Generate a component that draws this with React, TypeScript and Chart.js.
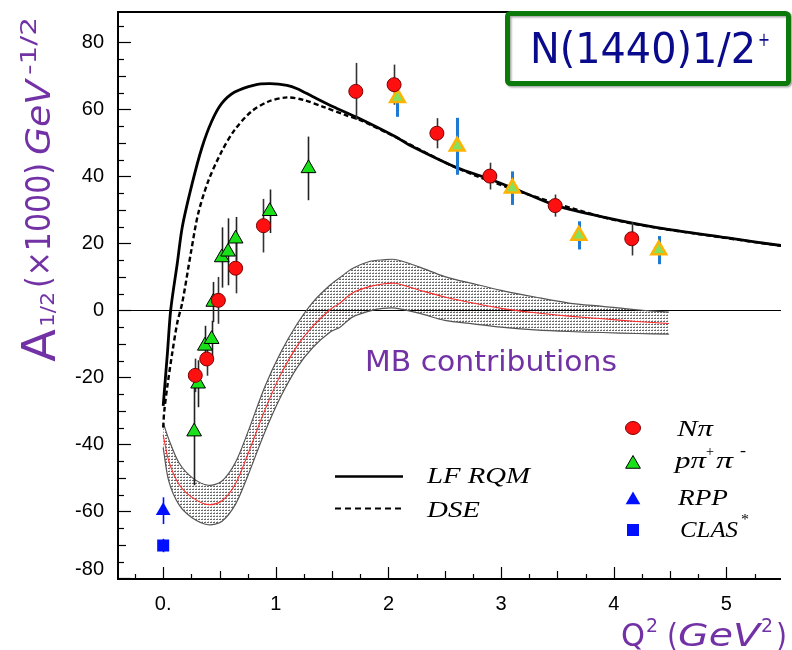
import React, { useEffect, useRef } from 'react';
import { Chart, registerables } from 'chart.js';

Chart.register(...registerables);

// ---- Model curves: A1/2 (x1000, GeV^-1/2) vs Q^2 (GeV^2) ----
const lfQ = [0, 0.038, 0.067, 0.125, 0.17, 0.256, 0.343, 0.43, 0.52, 0.635, 0.81, 0.95, 1.1, 1.19, 1.33, 1.51, 1.71, 2.06, 2.18, 2.61, 2.91, 3.2, 3.49, 3.92, 4.36, 5.0, 5.5];
const lfA = [-28.5, -12.6, 0.2, 14, 25, 37.7, 48.5, 56.4, 61.8, 65.2, 67.3, 67.7, 67.2, 66.2, 63.8, 60.8, 57.8, 51.9, 49.5, 42.6, 39.1, 35.2, 31.3, 27.8, 24.9, 21.7, 19.3];

const dseQ = [0, 0.009, 0.038, 0.081, 0.125, 0.169, 0.25, 0.31, 0.4, 0.52, 0.635, 0.78, 0.93, 1.1, 1.25, 1.42, 1.62, 1.75, 2.06, 2.61, 3.2, 3.92, 4.36, 5.0, 5.5];
const dseA = [-35, -30.3, -22.4, -12.6, -3.7, 2.2, 18, 28.8, 38.6, 47.5, 53.9, 59.3, 62.3, 63.6, 62.8, 60.8, 58.3, 56.8, 51.8, 42.5, 35.1, 27.7, 24.8, 21.6, 19.2];

// Meson-baryon contributions: central value and band edges
const mbQ = [0, 0.05, 0.14, 0.26, 0.4, 0.52, 0.64, 0.75, 0.9, 1.04, 1.19, 1.33, 1.48, 1.57, 1.68, 1.83, 1.95, 2.06, 2.27, 2.5, 2.75, 3.0, 3.3, 3.6, 3.9, 4.2, 4.49];
const mbCenter = [-37.2, -45, -51.9, -55.9, -58, -56.9, -51.9, -43.1, -30, -19.4, -10.6, -4.7, 0.2, 2.2, 5.2, 7.1, 7.9, 8.1, 6.1, 4.0, 2.2, 0.6, -0.7, -1.7, -2.5, -3.3, -3.9];
const mbUpper = [-33.5, -38.5, -45.5, -50, -52.2, -51, -45.5, -36.5, -23, -12.8, -4, 2.5, 7.5, 9.8, 12.5, 14.6, 15.1, 15.2, 13, 10.1, 8.0, 6.0, 4.0, 2.2, 1.2, 0.2, -0.5];
const mbLower = [-41, -51, -58, -62, -64, -63, -58, -49.5, -36.5, -26, -17, -11, -6.5, -5, -2, -0.2, 0.6, 0.7, -0.8, -3, -4.0, -5.0, -5.8, -6.3, -6.6, -6.9, -7.1];

// ---- Measured amplitudes with errors ----
const npiQ = [0.285, 0.387, 0.49, 0.643, 0.89, 1.71, 2.05, 2.43, 2.9, 3.48, 4.16];
const npiA = [-19.4, -14.5, 3, 12.6, 25.3, 65.4, 67.4, 52.9, 40.1, 31.3, 21.4];
const npiErr = [5, 5, 7, 7.5, 8, 8.5, 6, 4.5, 4, 3.3, 5];

const ppQ = [0.275, 0.31, 0.37, 0.43, 0.445, 0.52, 0.576, 0.643, 0.946, 1.29];
const ppA = [-36.2, -21.9, -10.6, -8.6, 2.5, 15.8, 17.5, 21.4, 29.6, 42.4];
const ppErr = [16, 7, 6, 5.5, 6, 9, 10, 6.5, 6.5, 9.5];

const ppHiQ = [2.08, 2.61, 3.1, 3.69, 4.4];
const ppHiA = [63.5, 49.0, 36.5, 22.4, 18.0];
const ppHiErr = [5.7, 8.5, 5, 4.2, 4.2];

const rppQ = [0];
const rppA = [-59.8];
const rppErr = [4];

const clasQ = [0];
const clasA = [-70.2];
const clasErr = [2];

// ---- Axes ----
const xTicks = [0, 1, 2, 3, 4, 5];
const xTickLabels = ['0.', '1', '2', '3', '4', '5'];
const yTicks = [-80, -60, -40, -20, 0, 20, 40, 60, 80];
const yTickLabels = ['-80', '-60', '-40', '-20', '0', '20', '40', '60', '80'];

const PURPLE = '#7232a6';
const RED = '#ff1010';
const GREEN = '#19e019';

const pts = (qs: number[], as: number[]) => qs.map((q, i) => ({ x: q, y: as[i] }));

function bandPattern(): CanvasPattern | string {
  const tile = document.createElement('canvas');
  tile.width = 3;
  tile.height = 3;
  const t = tile.getContext('2d');
  if (!t) return 'rgba(0,0,0,0.2)';
  t.fillStyle = 'rgba(0,0,0,0.6)';
  t.fillRect(0, 0, 2, 1);
  t.fillStyle = 'rgba(0,0,0,0.25)';
  t.fillRect(1, 2, 1, 1);
  return t.createPattern(tile, 'repeat') || 'rgba(0,0,0,0.2)';
}

// draw text so that it spans a given length along its direction
function fitText(ctx: CanvasRenderingContext2D, text: string, font: string, x: number, y: number, len: number) {
  ctx.save();
  ctx.font = font;
  const w = ctx.measureText(text).width;
  ctx.translate(x, y);
  ctx.scale(len / w, 1);
  ctx.textAlign = 'left';
  ctx.textBaseline = 'alphabetic';
  ctx.fillText(text, 0, 0);
  ctx.restore();
}

function rotText(ctx: CanvasRenderingContext2D, text: string, font: string, startY: number, baseX: number, len: number) {
  ctx.save();
  ctx.translate(baseX, startY);
  ctx.rotate(-Math.PI / 2);
  fitText(ctx, text, font, 0, 0, len);
  ctx.restore();
}

function drawTriangle(ctx: CanvasRenderingContext2D, x: number, y: number, r: number) {
  const h = 1.5 * r;
  const half = (Math.sqrt(3) * r) / 2;
  ctx.beginPath();
  ctx.moveTo(x, y - r);
  ctx.lineTo(x + half, y - r + h);
  ctx.lineTo(x - half, y - r + h);
  ctx.closePath();
}

const errorSets = [
  { q: npiQ, a: npiA, e: npiErr, color: '#333', width: 1.6 },
  { q: ppQ, a: ppA, e: ppErr, color: '#222', width: 1.6 },
  { q: ppHiQ, a: ppHiA, e: ppHiErr, color: '#1f78d1', width: 3 },
  { q: rppQ, a: rppA, e: rppErr, color: '#0010ff', width: 1.6 },
  { q: clasQ, a: clasA, e: clasErr, color: '#0010ff', width: 1.6 },
];

const decorPlugin = {
  id: 'decor',
  beforeDatasetsDraw(chart: any) {
    const { ctx, chartArea, scales } = chart;
    const y0 = scales.y.getPixelForValue(0);
    ctx.save();
    ctx.strokeStyle = '#000';
    ctx.lineWidth = 1;
    ctx.beginPath();
    ctx.moveTo(chartArea.left, Math.round(y0) + 0.5);
    ctx.lineTo(chartArea.right, Math.round(y0) + 0.5);
    ctx.stroke();
    ctx.restore();
  },
  beforeDatasetDraw(chart: any, args: any) {
    if (args.index !== 0) return;
    const { ctx, scales } = chart;
    ctx.save();
    errorSets.forEach((s) => {
      ctx.strokeStyle = s.color;
      ctx.lineWidth = s.width;
      s.q.forEach((q, i) => {
        const px = Math.round(scales.x.getPixelForValue(q)) + 0.5;
        ctx.beginPath();
        ctx.moveTo(px, scales.y.getPixelForValue(s.a[i] + s.e[i]));
        ctx.lineTo(px, scales.y.getPixelForValue(s.a[i] - s.e[i]));
        ctx.stroke();
      });
    });
    ctx.restore();
  },
  afterDraw(chart: any) {
    const { ctx, chartArea, scales } = chart;
    const { left, right, top, bottom } = chartArea;
    const xs = scales.x;
    const ys = scales.y;
    ctx.save();

    // frame
    ctx.strokeStyle = '#000';
    ctx.lineWidth = 2;
    ctx.beginPath();
    ctx.moveTo(right, top + 1);
    ctx.lineTo(left + 1, top + 1);
    ctx.lineTo(left + 1, bottom);
    ctx.lineTo(right, bottom);
    ctx.stroke();

    // y ticks (inward)
    ctx.lineWidth = 1.2;
    for (let v = -80; v <= 85; v += 5) {
      const py = Math.round(ys.getPixelForValue(v)) + 0.5;
      const len = v % 20 === 0 ? 13 : v % 10 === 0 ? 8 : 6;
      ctx.beginPath();
      ctx.moveTo(left + 1, py);
      ctx.lineTo(left + 1 + len, py);
      ctx.stroke();
    }
    // x ticks (inward)
    for (let v = -0.25; v <= 5.45; v += 0.25) {
      const px = Math.round(xs.getPixelForValue(v)) + 0.5;
      const r = Math.round(v * 4) % 4;
      const len = r === 0 ? 12 : r === 2 || r === -2 ? 8 : 5;
      ctx.beginPath();
      ctx.moveTo(px, bottom);
      ctx.lineTo(px, bottom - len);
      ctx.stroke();
    }

    // tick labels
    ctx.fillStyle = '#000';
    ctx.font = '20px "Liberation Sans", Arial, sans-serif';
    ctx.textAlign = 'right';
    ctx.textBaseline = 'middle';
    yTicks.forEach((v, i) => {
      const py = Math.min(ys.getPixelForValue(v), bottom - 10);
      ctx.fillText(yTickLabels[i], 104, py);
    });
    ctx.textAlign = 'center';
    xTicks.forEach((v, i) => {
      ctx.fillText(xTickLabels[i], xs.getPixelForValue(v), bottom + 25);
    });

    // y axis title
    ctx.fillStyle = PURPLE;
    rotText(ctx, 'A', '46px "DejaVu Sans", sans-serif', 362, 55, 33);
    rotText(ctx, '1/2', '19px "DejaVu Sans", sans-serif', 327, 54, 35);
    rotText(ctx, '(\u00d71000)', '34px "DejaVu Sans", sans-serif', 288, 50, 125);
    rotText(ctx, 'GeV', 'italic 34px "DejaVu Sans", sans-serif', 155, 50, 75);
    rotText(ctx, '-1/2', '21px "DejaVu Sans", sans-serif', 75, 36, 58);

    // x axis title
    fitText(ctx, 'Q', '32px "DejaVu Sans", sans-serif', 621, 646, 24);
    fitText(ctx, '2', '20px "DejaVu Sans", sans-serif', 646, 632, 12);
    fitText(ctx, '(', '32px "DejaVu Sans", sans-serif', 667, 646, 11);
    fitText(ctx, 'GeV', 'italic 32px "DejaVu Sans", sans-serif', 678, 646, 82);
    fitText(ctx, '2', '20px "DejaVu Sans", sans-serif', 761, 632, 12);
    fitText(ctx, ')', '32px "DejaVu Sans", sans-serif', 776, 646, 11);

    // band label
    fitText(ctx, 'MB contributions', '29px "DejaVu Sans", sans-serif', 365, 371, 252);

    // legend: model curves
    ctx.strokeStyle = '#000';
    ctx.lineWidth = 2.5;
    ctx.beginPath();
    ctx.moveTo(335, 476.5);
    ctx.lineTo(403, 476.5);
    ctx.stroke();
    ctx.setLineDash([6, 4]);
    ctx.lineWidth = 2;
    ctx.beginPath();
    ctx.moveTo(335, 508.5);
    ctx.lineTo(403, 508.5);
    ctx.stroke();
    ctx.setLineDash([]);
    ctx.fillStyle = '#000';
    const serif = '"Liberation Serif", "Times New Roman", serif';
    fitText(ctx, 'LF RQM', `italic 24px ${serif}`, 427, 483, 103);
    fitText(ctx, 'DSE', `italic 24px ${serif}`, 427, 517, 53);

    // legend: data sets
    const mx = 633;
    ctx.lineWidth = 1;
    ctx.fillStyle = RED;
    ctx.strokeStyle = '#7a0000';
    ctx.beginPath();
    ctx.ellipse(mx, 428, 7.5, 6.5, 0, 0, Math.PI * 2);
    ctx.fill();
    ctx.stroke();
    ctx.fillStyle = GREEN;
    ctx.strokeStyle = '#000';
    drawTriangle(ctx, mx, 464, 8.5);
    ctx.fill();
    ctx.stroke();
    ctx.fillStyle = '#0010ff';
    drawTriangle(ctx, mx, 500, 8.5);
    ctx.fill();
    ctx.fillRect(mx - 6, 524, 12, 12);

    ctx.fillStyle = '#000';
    fitText(ctx, 'N\u03c0', `italic 24px ${serif}`, 677, 436, 36);
    fitText(ctx, 'p\u03c0', `italic 24px ${serif}`, 675, 468, 31);
    fitText(ctx, '+', `15px ${serif}`, 706, 456, 8);
    fitText(ctx, '\u03c0', `italic 24px ${serif}`, 716, 468, 17);
    fitText(ctx, '-', `16px ${serif}`, 740, 456, 6);
    fitText(ctx, 'RPP', `italic 24px ${serif}`, 678, 505, 50);
    fitText(ctx, 'CLAS', `italic 24px ${serif}`, 680, 537, 58);
    fitText(ctx, '*', `15px ${serif}`, 741, 524, 8);

    // state label box
    ctx.save();
    ctx.shadowColor = 'rgba(0,0,0,0.35)';
    ctx.shadowOffsetX = 1.5;
    ctx.shadowOffsetY = 1.5;
    ctx.shadowBlur = 2;
    ctx.strokeStyle = '#0b7a0b';
    ctx.lineWidth = 5;
    ctx.beginPath();
    ctx.roundRect(507.5, 13.5, 281, 70, 3);
    ctx.stroke();
    ctx.restore();
    ctx.fillStyle = '#0a0a8c';
    fitText(ctx, 'N(1440)1/2', '42px "DejaVu Sans", sans-serif', 530, 63, 226);
    fitText(ctx, '+', '20px "DejaVu Sans", sans-serif', 758, 46, 12);

    ctx.restore();
  },
};

export default function App() {
  const ref = useRef<HTMLCanvasElement>(null);

  useEffect(() => {
    const canvas = ref.current;
    if (!canvas) return;
    const pattern = bandPattern();
    const curve = { showLine: true, pointRadius: 0, fill: false, tension: 0.3 };
    const chart = new Chart(canvas, {
      type: 'scatter',
      data: {
        datasets: [
          {
            label: 'p\u03c0+\u03c0- (high Q2)',
            data: pts(ppHiQ, ppHiA),
            pointStyle: 'triangle',
            pointRadius: 8.5,
            backgroundColor: '#86e060',
            borderColor: '#ffb300',
            borderWidth: 2.5,
            order: 4,
          },
          {
            label: 'p\u03c0+\u03c0-',
            data: pts(ppQ, ppA),
            pointStyle: 'triangle',
            pointRadius: 8.5,
            backgroundColor: GREEN,
            borderColor: '#000',
            borderWidth: 1,
            order: 3,
          },
          {
            label: 'N\u03c0',
            data: pts(npiQ, npiA),
            pointStyle: 'circle',
            pointRadius: 7,
            backgroundColor: RED,
            borderColor: '#7a0000',
            borderWidth: 1,
            order: 2,
          },
          {
            label: 'RPP',
            data: pts(rppQ, rppA),
            pointStyle: 'triangle',
            pointRadius: 8.5,
            backgroundColor: '#0010ff',
            borderWidth: 0,
            order: 1,
          },
          {
            label: 'CLAS*',
            data: pts(clasQ, clasA),
            pointStyle: 'rect',
            pointRadius: 8.5,
            backgroundColor: '#0010ff',
            borderWidth: 0,
            order: 1,
          },
          {
            label: 'LF RQM',
            data: pts(lfQ, lfA),
            ...curve,
            borderColor: '#000',
            borderWidth: 2.8,
            order: 6,
          },
          {
            label: 'DSE',
            data: pts(dseQ, dseA),
            ...curve,
            borderColor: '#000',
            borderWidth: 2.4,
            borderDash: [5, 3],
            order: 7,
          },
          {
            label: 'MB upper',
            data: pts(mbQ, mbUpper),
            ...curve,
            fill: '+1',
            backgroundColor: pattern as any,
            borderColor: '#555',
            borderWidth: 1.2,
            order: 10,
          },
          {
            label: 'MB lower',
            data: pts(mbQ, mbLower),
            ...curve,
            borderColor: '#555',
            borderWidth: 1.2,
            order: 9,
          },
          {
            label: 'MB',
            data: pts(mbQ, mbCenter),
            ...curve,
            borderColor: '#ff2a2a',
            borderWidth: 1.1,
            order: 8,
          },
        ],
      },
      options: {
        responsive: false,
        animation: false,
        devicePixelRatio: 1,
        events: [],
        layout: { padding: { left: 117, top: 5, right: 0, bottom: 71 } },
        scales: {
          x: { type: 'linear', min: -0.41, max: 5.485, display: false },
          y: { type: 'linear', min: -80.2, max: 89.4, display: false },
        },
        plugins: {
          legend: { display: false },
          tooltip: { enabled: false },
          title: { display: false },
        },
      },
      plugins: [decorPlugin],
    });
    return () => chart.destroy();
  }, []);

  return (
    <div style={{ position: 'fixed', left: 0, top: 0, width: 792, height: 650, background: '#fff' }}>
      <canvas ref={ref} width={792} height={650} style={{ display: 'block', width: 792, height: 650 }} />
    </div>
  );
}
